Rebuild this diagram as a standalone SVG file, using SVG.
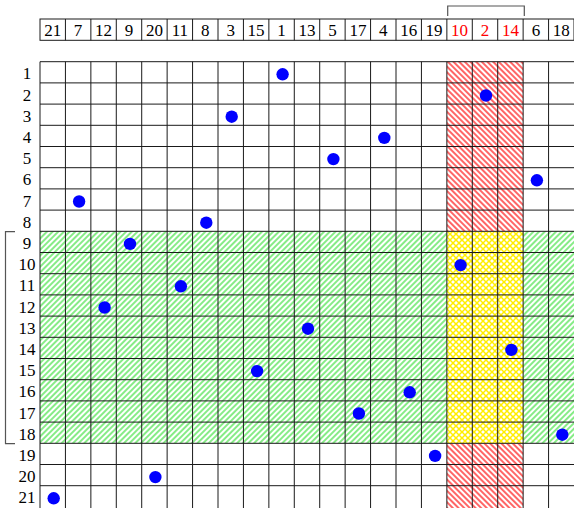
<svg xmlns="http://www.w3.org/2000/svg" width="574" height="508" viewBox="0 0 574 508">
<style>
text{font-family:"Liberation Serif","Times New Roman",serif;font-size:17px;text-anchor:middle;fill:#000}
.red{fill:#ff0000}
.grid line{stroke:#1a1a1a;stroke-width:1}
.br{fill:none;stroke:#555;stroke-width:1.2}
.dot{fill:#0000ff}
</style>
<defs>
<pattern id="redH" patternUnits="userSpaceOnUse" width="4" height="4" patternTransform="rotate(-45)">
<rect width="4" height="4" fill="#fff"/>
<line x1="1" y1="0" x2="1" y2="4" stroke="#ff0000" stroke-width="1.2"/>
</pattern>
<pattern id="greenH" patternUnits="userSpaceOnUse" width="4" height="4" patternTransform="rotate(45)">
<rect width="4" height="4" fill="#fff"/>
<line x1="1" y1="0" x2="1" y2="4" stroke="#22dd22" stroke-width="1.1"/>
</pattern>
<pattern id="yellowX" patternUnits="userSpaceOnUse" width="6" height="6">
<rect width="6" height="6" fill="#fff"/>
<path d="M0,0L6,6M6,0L0,6" stroke="#ffee00" stroke-width="1.5"/>
</pattern>
</defs>
<rect width="574" height="508" fill="#fff"/>
<g id="fills">
<rect x="446.9" y="61.7" width="76.3" height="169.6" fill="url(#redH)"/>
<rect x="446.9" y="443.3" width="76.3" height="64.7" fill="url(#redH)"/>
<rect x="40" y="231.3" width="406.9" height="212" fill="url(#greenH)"/>
<rect x="523.2" y="231.3" width="50.8" height="212" fill="url(#greenH)"/>
<rect x="446.9" y="231.3" width="76.3" height="212" fill="url(#yellowX)"/>
</g>
<g id="header">
<rect x="40" y="19" width="534" height="21.3" fill="none" stroke="#1a1a1a" stroke-width="1"/>
<g class="grid">
<line x1="65.43" y1="19" x2="65.43" y2="40.3"/><line x1="90.86" y1="19" x2="90.86" y2="40.3"/><line x1="116.29" y1="19" x2="116.29" y2="40.3"/><line x1="141.71" y1="19" x2="141.71" y2="40.3"/><line x1="167.14" y1="19" x2="167.14" y2="40.3"/><line x1="192.57" y1="19" x2="192.57" y2="40.3"/><line x1="218" y1="19" x2="218" y2="40.3"/><line x1="243.43" y1="19" x2="243.43" y2="40.3"/><line x1="268.86" y1="19" x2="268.86" y2="40.3"/><line x1="294.29" y1="19" x2="294.29" y2="40.3"/><line x1="319.71" y1="19" x2="319.71" y2="40.3"/><line x1="345.14" y1="19" x2="345.14" y2="40.3"/><line x1="370.57" y1="19" x2="370.57" y2="40.3"/><line x1="396" y1="19" x2="396" y2="40.3"/><line x1="421.43" y1="19" x2="421.43" y2="40.3"/><line x1="446.86" y1="19" x2="446.86" y2="40.3"/><line x1="472.29" y1="19" x2="472.29" y2="40.3"/><line x1="497.71" y1="19" x2="497.71" y2="40.3"/><line x1="523.14" y1="19" x2="523.14" y2="40.3"/><line x1="548.57" y1="19" x2="548.57" y2="40.3"/>
</g>
<text x="52.7" y="36">21</text><text x="78.1" y="36">7</text><text x="103.6" y="36">12</text><text x="129" y="36">9</text><text x="154.4" y="36">20</text><text x="179.9" y="36">11</text><text x="205.3" y="36">8</text><text x="230.7" y="36">3</text><text x="256.1" y="36">15</text><text x="281.6" y="36">1</text><text x="307" y="36">13</text><text x="332.4" y="36">5</text><text x="357.9" y="36">17</text><text x="383.3" y="36">4</text><text x="408.7" y="36">16</text><text x="434.1" y="36">19</text><text class="red" x="459.6" y="36">10</text><text class="red" x="485" y="36">2</text><text class="red" x="510.4" y="36">14</text><text x="535.9" y="36">6</text><text x="561.3" y="36">18</text>
</g>
<path class="br" d="M447.7,16V6H524.3V16"/>
<path class="br" d="M15,231.7H5.5V443.7H15"/>
<g id="rowlabels">
<text x="27" y="79.3">1</text><text x="27" y="100.5">2</text><text x="27" y="121.7">3</text><text x="27" y="142.9">4</text><text x="27" y="164.1">5</text><text x="27" y="185.3">6</text><text x="27" y="206.5">7</text><text x="27" y="227.7">8</text><text x="27" y="248.9">9</text><text x="27" y="270.1">10</text><text x="27" y="291.3">11</text><text x="27" y="312.5">12</text><text x="27" y="333.7">13</text><text x="27" y="354.9">14</text><text x="27" y="376.1">15</text><text x="27" y="397.3">16</text><text x="27" y="418.5">17</text><text x="27" y="439.7">18</text><text x="27" y="460.9">19</text><text x="27" y="482.1">20</text><text x="27" y="503.3">21</text>
</g>
<g id="grid" class="grid">
<line x1="40" y1="61.7" x2="40" y2="508"/><line x1="65.43" y1="61.7" x2="65.43" y2="508"/><line x1="90.86" y1="61.7" x2="90.86" y2="508"/><line x1="116.29" y1="61.7" x2="116.29" y2="508"/><line x1="141.71" y1="61.7" x2="141.71" y2="508"/><line x1="167.14" y1="61.7" x2="167.14" y2="508"/><line x1="192.57" y1="61.7" x2="192.57" y2="508"/><line x1="218" y1="61.7" x2="218" y2="508"/><line x1="243.43" y1="61.7" x2="243.43" y2="508"/><line x1="268.86" y1="61.7" x2="268.86" y2="508"/><line x1="294.29" y1="61.7" x2="294.29" y2="508"/><line x1="319.71" y1="61.7" x2="319.71" y2="508"/><line x1="345.14" y1="61.7" x2="345.14" y2="508"/><line x1="370.57" y1="61.7" x2="370.57" y2="508"/><line x1="396" y1="61.7" x2="396" y2="508"/><line x1="421.43" y1="61.7" x2="421.43" y2="508"/><line x1="446.86" y1="61.7" x2="446.86" y2="508"/><line x1="472.29" y1="61.7" x2="472.29" y2="508"/><line x1="497.71" y1="61.7" x2="497.71" y2="508"/><line x1="523.14" y1="61.7" x2="523.14" y2="508"/><line x1="548.57" y1="61.7" x2="548.57" y2="508"/>
<line x1="40" y1="61.7" x2="574" y2="61.7"/><line x1="40" y1="82.9" x2="574" y2="82.9"/><line x1="40" y1="104.1" x2="574" y2="104.1"/><line x1="40" y1="125.3" x2="574" y2="125.3"/><line x1="40" y1="146.5" x2="574" y2="146.5"/><line x1="40" y1="167.7" x2="574" y2="167.7"/><line x1="40" y1="188.9" x2="574" y2="188.9"/><line x1="40" y1="210.1" x2="574" y2="210.1"/><line x1="40" y1="231.3" x2="574" y2="231.3"/><line x1="40" y1="252.5" x2="574" y2="252.5"/><line x1="40" y1="273.7" x2="574" y2="273.7"/><line x1="40" y1="294.9" x2="574" y2="294.9"/><line x1="40" y1="316.1" x2="574" y2="316.1"/><line x1="40" y1="337.3" x2="574" y2="337.3"/><line x1="40" y1="358.5" x2="574" y2="358.5"/><line x1="40" y1="379.7" x2="574" y2="379.7"/><line x1="40" y1="400.9" x2="574" y2="400.9"/><line x1="40" y1="422.1" x2="574" y2="422.1"/><line x1="40" y1="443.3" x2="574" y2="443.3"/><line x1="40" y1="464.5" x2="574" y2="464.5"/><line x1="40" y1="485.7" x2="574" y2="485.7"/>
</g>
<g id="dots">
<circle class="dot" cx="282.6" cy="74.3" r="6.2"/>
<circle class="dot" cx="486" cy="95.5" r="6.2"/>
<circle class="dot" cx="231.7" cy="116.7" r="6.2"/>
<circle class="dot" cx="384.3" cy="137.9" r="6.2"/>
<circle class="dot" cx="333.4" cy="159.1" r="6.2"/>
<circle class="dot" cx="536.9" cy="180.3" r="6.2"/>
<circle class="dot" cx="79.1" cy="201.5" r="6.2"/>
<circle class="dot" cx="206.3" cy="222.7" r="6.2"/>
<circle class="dot" cx="130" cy="243.9" r="6.2"/>
<circle class="dot" cx="460.6" cy="265.1" r="6.2"/>
<circle class="dot" cx="180.9" cy="286.3" r="6.2"/>
<circle class="dot" cx="104.6" cy="307.5" r="6.2"/>
<circle class="dot" cx="308" cy="328.7" r="6.2"/>
<circle class="dot" cx="511.4" cy="349.9" r="6.2"/>
<circle class="dot" cx="257.1" cy="371.1" r="6.2"/>
<circle class="dot" cx="409.7" cy="392.3" r="6.2"/>
<circle class="dot" cx="358.9" cy="413.5" r="6.2"/>
<circle class="dot" cx="562.3" cy="434.7" r="6.2"/>
<circle class="dot" cx="435.1" cy="455.9" r="6.2"/>
<circle class="dot" cx="155.4" cy="477.1" r="6.2"/>
<circle class="dot" cx="53.7" cy="498.3" r="6.2"/>
</g>
</svg>
